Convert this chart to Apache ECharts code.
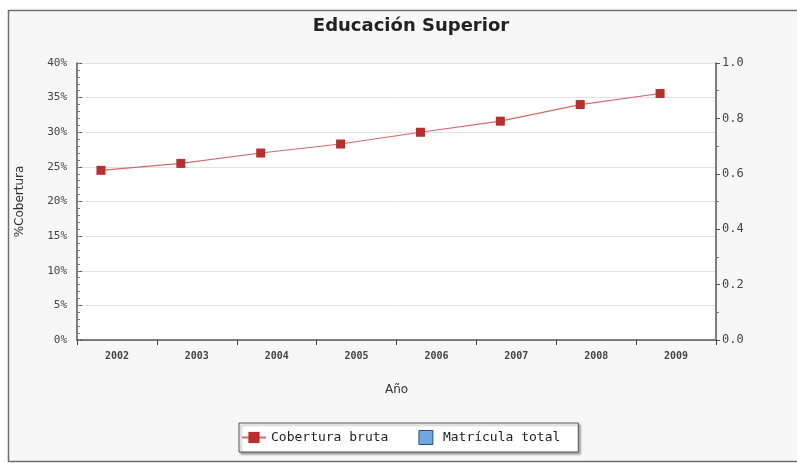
<!DOCTYPE html>
<html>
<head>
<meta charset="utf-8">
<script src="https://cdn.jsdelivr.net/npm/echarts@6/dist/echarts.min.js"></script>
<style>html,body{margin:0;padding:0;background:#fff}#c{width:797px;height:463px}</style>
</head>
<body>
<div id="c"></div>
<script>
const titleText = 'Educación Superior';
const years = ['2002','2003','2004','2005','2006','2007','2008','2009'];
const coberturaBruta = [24.5, 25.5, 27.0, 28.3, 30.0, 31.6, 34.0, 35.6];
const matriculaTotal = [null, null, null, null, null, null, null, null];
const leftTicks = {min: 0, max: 40, interval: 5, minorInterval: 1};
const rightTicks = {min: 0, max: 1, interval: 0.2};
const pointOffset = 0.3; // marks sit left of category centre in the reference

const chart = echarts.init(document.getElementById('c'));
const mono = 'DejaVu Sans Mono';
chart.setOption({
  animation: false,
  backgroundColor: '#ffffff',
  graphic: [{
    type: 'rect', z: -10, silent: true,
    shape: {x: 8.5, y: 10.5, width: 792, height: 451},
    style: {fill: '#f7f7f7', stroke: '#6f6f6f', lineWidth: 1.5}
  }],
  title: {
    text: titleText, left: 406, top: 12, textAlign: 'center',
    textStyle: {fontFamily: 'DejaVu Sans', fontWeight: 'bold', fontSize: 18, color: '#222'}
  },
  legend: {
    left: 239, top: 423,
    backgroundColor: '#ffffff', borderColor: '#555', borderWidth: 1,
    shadowColor: 'rgba(0,0,0,0.35)', shadowOffsetX: 2, shadowOffsetY: 2, shadowBlur: 2,
    padding: [7, 18, 7, 2], itemGap: 30, itemWidth: 24, itemHeight: 14,
    textStyle: {fontFamily: mono, fontSize: 13, color: '#222'},
    data: ['Cobertura bruta', {name: 'Matrícula total', icon: 'path://M0,0H10V10H0Z', itemStyle:{color:'#6fa8dc', borderColor:'#2d4f73', borderWidth:1}}]
  },
  grid: {left: 77, right: 81, top: 63, bottom: 123, show: true, backgroundColor: '#ffffff', borderWidth: 0},
  xAxis: [{
    type: 'category', data: years, boundaryGap: true,
    name: 'Año', nameLocation: 'middle', nameGap: 44,
    nameTextStyle: {fontFamily: 'DejaVu Sans', fontSize: 12, color: '#333'},
    axisLine: {lineStyle: {color: '#555', width: 1.5}},
    axisTick: {show: true, length: 5, lineStyle: {color: '#444'}},
    axisLabel: {fontFamily: mono, fontSize: 10, fontWeight: 'bold', color: '#444', margin: 11},
    splitLine: {show: false}
  }, {
    type: 'value', min: 0, max: years.length, show: false
  }],
  yAxis: [{
    type: 'value', min: leftTicks.min, max: leftTicks.max, interval: leftTicks.interval,
    position: 'left',
    name: '%Cobertura', nameLocation: 'middle', nameGap: 51, nameRotate: 90,
    nameTextStyle: {fontFamily: 'DejaVu Sans', fontSize: 12, color: '#333'},
    axisLine: {show: true, lineStyle: {color: '#555', width: 1.5}},
    axisTick: {show: true, inside: true, length: 5, lineStyle: {color: '#555'}},
    axisLabel: {formatter: '{value}%', fontFamily: mono, fontSize: 11, color: '#444', margin: 10},
    splitLine: {show: true, lineStyle: {color: '#e2e2e2'}}
  }, {
    type: 'value', min: rightTicks.min, max: rightTicks.max, interval: rightTicks.interval,
    position: 'right',
    axisLine: {show: true, lineStyle: {color: '#555', width: 1.5}},
    axisTick: {show: true, length: 4, lineStyle: {color: '#555'}},
    minorTick: {show: true, splitNumber: 2, length: 3, lineStyle: {color: '#777'}},
    axisLabel: {formatter: v => v.toFixed(1), fontFamily: mono, fontSize: 12, color: '#444', margin: 6},
    splitLine: {show: false}
  }, {
    type: 'value', min: leftTicks.min, max: leftTicks.max, interval: leftTicks.minorInterval,
    position: 'left',
    axisLine: {show: false},
    axisTick: {show: true, inside: true, length: 3, lineStyle: {color: '#777'}},
    axisLabel: {show: false},
    splitLine: {show: false}
  }],
  series: [{
    name: 'Cobertura bruta', type: 'line', xAxisIndex: 1, yAxisIndex: 0,
    data: coberturaBruta.map((v, i) => [i + pointOffset, v]),
    symbol: 'rect', symbolSize: 9,
    lineStyle: {color: '#d46a6a', width: 1.2},
    itemStyle: {color: '#b5302e'}
  }, {
    name: 'Matrícula total', type: 'bar', xAxisIndex: 0, yAxisIndex: 1,
    data: matriculaTotal,
    itemStyle: {color: '#6fa8dc', borderColor: '#2d4f73'}
  }]
});
</script>
</body>
</html>
